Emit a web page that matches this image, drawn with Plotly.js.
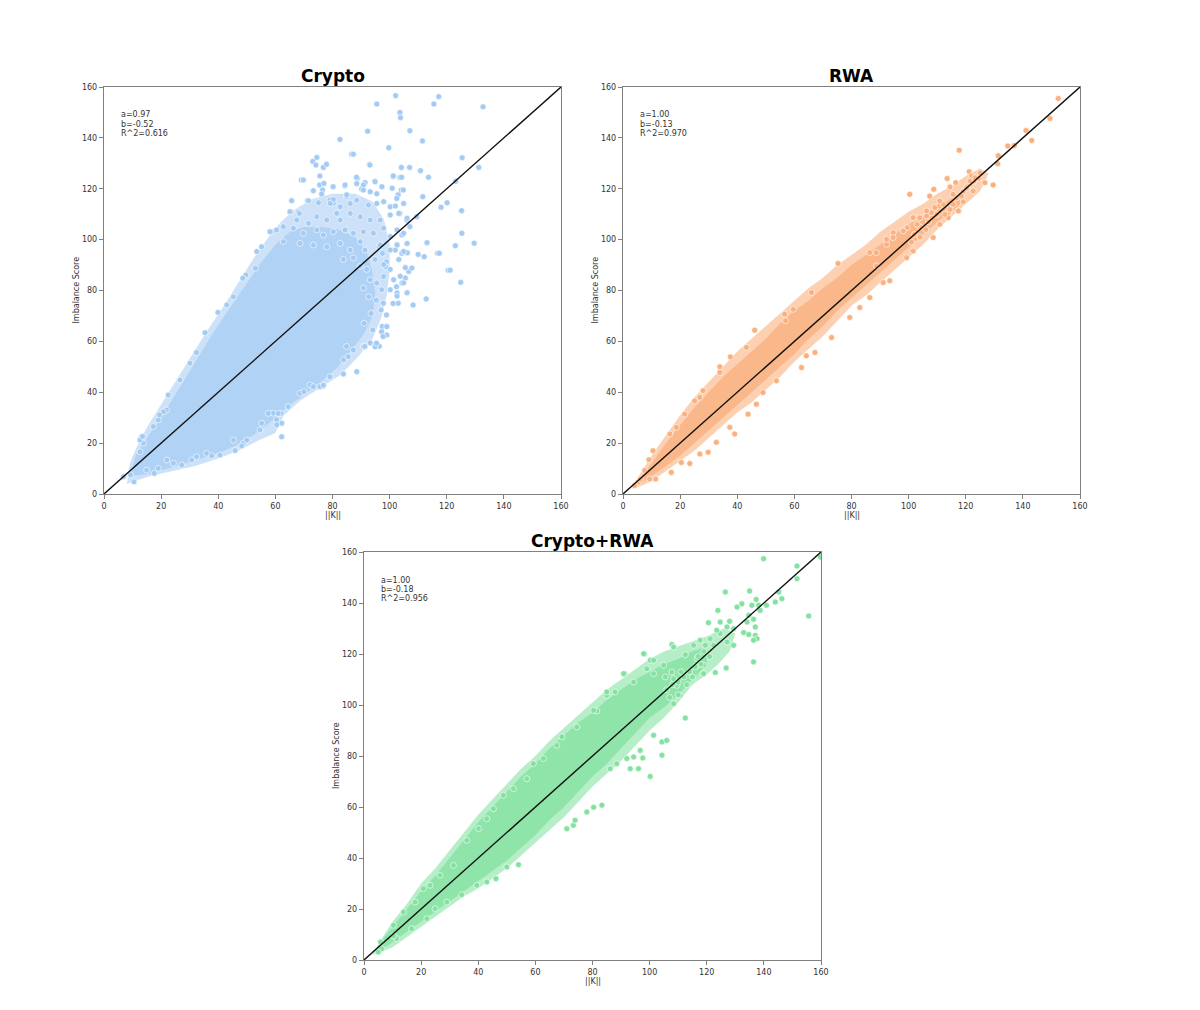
<!DOCTYPE html>
<html>
<head>
<meta charset="utf-8">
<script src="https://cdn.plot.ly/plotly-3.0.1.min.js"></script>
<style>html,body{margin:0;padding:0;background:#fff;}#chart{width:1200px;height:1010px;}</style>
</head>
<body>
<div id="chart"></div>
<script>
// ---------------- DATA ----------------
const panelTitles = ['Crypto', 'RWA', 'Crypto+RWA'];
const axisRange = [0, 160];
const tickValues = [0, 20, 40, 60, 80, 100, 120, 140, 160];
const xAxisLabel = '||K||';
const yAxisLabel = 'Imbalance Score';

const cryptoStats = ['a=0.97', 'b=-0.52', 'R^2=0.616'];
const rwaStats = ['a=1.00', 'b=-0.13', 'R^2=0.970'];
const combinedStats = ['a=1.00', 'b=-0.18', 'R^2=0.956'];

// outline of the fully covered (dense) part of each cloud, [||K||, score]
const cryptoCore = [[9,7],[11,15],[15,22],[20,30],[26,41],[32,52],[38,63],[44,73],[50,83],[55,91],[60,98],[65,103],[70,105],[76,105],[82,104],[88,101],[92,95],[94,87],[95,79],[94,70],[91,63],[87,57],[82,50],[76,44],[70,39],[64,34],[58,28],[52,23],[46,19],[40,16],[34,14],[28,12],[22,10],[16,8]];
const rwaCore = [[5,5],[10,12],[15,20],[20,27],[25,34],[30,40],[35,46],[40,51],[45,56],[50,61],[55,67],[60,72],[65,76],[70,81],[75,85],[80,90],[85,94],[90,98],[95,102],[100,106],[105,109],[110,113],[115,116],[118,118],[118,114],[115,111],[110,107],[105,102],[100,97],[95,92],[90,87],[85,82],[80,77],[75,72],[70,66],[65,61],[60,55],[55,50],[50,45],[45,40],[40,35],[35,30],[30,25],[25,20],[20,15],[15,11],[10,7],[5,3]];
const combinedCore = [[5,6],[10,13],[15,20],[20,27],[25,33],[30,40],[35,47],[40,54],[45,60],[50,66],[55,72],[60,77],[65,83],[70,88],[75,93],[80,97],[85,102],[90,106],[95,110],[100,113],[105,116],[110,118],[115,121],[120,123],[120,116],[115,110],[110,104],[105,99],[100,95],[95,89],[90,83],[85,77],[80,72],[75,66],[70,60],[65,55],[60,49],[55,44],[50,39],[45,35],[40,31],[35,27],[30,23],[25,19],[20,15],[15,11],[10,7],[5,3]];

// outline of the partly covered (medium density) zone around it
const cryptoHalo = [[8,4],[9,12],[12,20],[16,28],[21,37],[26,46],[31,55],[36,64],[42,74],[47,83],[52,92],[57,100],[62,107],[67,112],[73,116],[80,118],[88,118],[94,115],[98,108],[100,98],[100,88],[99,78],[97,69],[94,61],[89,54],[83,47],[76,42],[69,37],[63,31],[60,24],[54,21],[47,17],[40,14],[32,11],[24,9],[16,7]];
const rwaHalo = [[3,2],[6,8],[10,15],[15,23],[20,31],[25,38],[30,44],[35,50],[40,56],[45,61],[50,66],[55,71],[60,76],[65,81],[70,85],[75,90],[80,94],[85,98],[90,103],[95,107],[100,111],[105,114],[110,118],[115,121],[120,125],[125,128],[128,126],[125,119],[120,114],[115,109],[110,104],[105,98],[100,93],[95,88],[90,83],[85,78],[80,74],[75,68],[70,62],[65,57],[60,52],[55,46],[50,41],[45,36],[40,32],[35,27],[30,22],[25,17],[20,13],[15,9],[10,5],[6,3]];
const combinedHalo = [[3,2],[6,8],[10,15],[15,22],[20,30],[25,36],[30,43],[35,50],[40,57],[45,63],[50,69],[55,75],[60,80],[65,86],[70,91],[75,96],[80,101],[85,106],[90,110],[95,114],[100,118],[105,121],[110,123],[115,125],[120,127],[126,130],[130,128],[128,121],[124,116],[120,112],[115,108],[110,101],[105,95],[100,90],[95,84],[90,78],[85,73],[80,68],[75,62],[70,56],[65,51],[60,46],[55,41],[50,36],[45,32],[40,28],[35,25],[30,21],[25,17],[20,13],[15,9],[10,5],[6,3]];

// individual points around / outside the dense part
const cryptoPoints = [
[102.1,156.6],[117.2,156.2],[115.5,153.3],[132.7,152.2],[95.5,153.3],[103.6,150],[103.8,147.9],[107.1,142.8],[92.3,142.6],[111.5,138.8],
[82.6,139.4],[99.7,136.1],[125.4,132.2],[131.2,128.4],[86.7,133.6],[87.3,133.6],[74.5,132.3],[73.1,130.7],[74.2,129.3],[76.8,128.4],
[77.9,129.6],[93,129.6],[104.1,128.4],[107,128.4],[110.8,127.1],[101.2,125.1],[113.6,124.5],[103.6,124.4],[69.1,123.4],[88.7,124],
[94.8,122.9],[97.3,120.8],[91.4,122.4],[90.2,119.9],[84.3,121.1],[80.2,120.8],[75.5,121.5],[76.5,119.5],[100.9,120.2],[104.1,119.5],
[123.1,122.9],[125.2,111.4],[120.1,114.5],[118,112.7],[111.6,116.9],[109.5,109],[103.6,110.3],[106,107.7],[107.1,105.1],[125.3,102.5],
[123,97.6],[129.6,98.6],[113.1,98.8],[116.8,94.6],[117.4,94.6],[110,94.2],[112.1,93.3],[120.5,88],[124.9,83.2],[112.8,76.7],
[108.2,74.3],[102.6,79],[104.3,82.9],[105.5,84.9],[106.7,87.5],[107.8,88.8],[103.7,85.6],[104.3,94.6],[106.2,94.8],[102,95.9],
[102.6,98.1],[104.3,101.8],[98.9,91.3],[98.6,89.3],[97.5,94.6],[96.3,97.2],[92.7,77.5],[95.3,76.2],[97,72.3],[93.5,71],
[94.1,64.5],[97.4,65.8],[91.1,67.1],[93.2,59.4],[96.4,58.1],[99,62.5],[91.1,58.1],[103,75],[97.8,75],[121.2,88],
[99,65.8],[97.2,63.8],[94.9,57.9],[90.8,57.9],[88.5,48.1],[83.8,47.2],[79.1,46.1],[76.6,42.4],[87.3,56.6],[85.5,54],
[83.8,52.7],[68.6,39.6],[70,40.2],[72.1,42.9],[62,31.7],[62.2,27.8],[62.2,22.5],[69.8,123.4],[65.7,115.3],[71.2,115.3],
[65.5,110.9],[68,110.9],[58.7,103.1],[53.5,95.3],[55.2,97.2],[53,88.7],[49.7,86.1],[48.6,84.8],[45.3,77.5],[43,74.3],
[39.9,71.4],[35.4,63.4],[32.4,55.6],[30.1,51.4],[26.6,44.8],[22.5,38.9],[21.9,33],[19,29.1],[17.3,26.5],[13.2,22.6],
[13.8,20],[48.8,20],[50,21.2],[59.3,31.8],[60.4,29.2],[75.6,42.2],[84.9,58],[91.3,58],[95.4,59.3],[97.7,61.9],
[98.9,70.4],[101.2,74.9],[102.4,81.5],[93.1,129.3],[101.2,124.7],[88.5,122],[90.8,119.5],[93.2,118.8],[80.3,114.3],[84.9,116.9],
[79.1,115.6],[10.5,4.8],[6.8,6.8],[9.3,7.5],[12.6,21.2],[13.5,22.6],[12.6,16.6],[20.8,32.3],[19.4,31.1],[24.3,12.1],
[27.2,11.4],[22,13.4],[19,10.1],[17.6,8.1],[14.9,9.4],[30.7,13.4],[32.4,14.7],[35.9,16],[37.7,15],[40.6,15.3],
[45.9,17.1],[48.2,18.9],[45.3,21.2],[54.6,25.2],[55.2,27.8],[57.5,31.7],[61,31.7],[60.5,27.2],[64.5,34.3],[76.8,42.8],
[73.3,42.2],[75.6,125],[77,122.1],[73.3,119.2],[76.2,117.9],[84.4,121.5],[85,117.6],[88.4,124.5],[90.8,121.5],[94.9,122.8],
[95.5,118],[101.3,125],[104.2,124.5],[103,117.6],[102.5,116.2],[104.8,119.5],[71.6,115.3],[75.1,114.5],[80.3,115.8],[79.2,114.2],
[82.7,112.9],[86.2,114.2],[88.5,115.5],[92.6,113.6],[95.5,114.2],[97.9,114.9],[100.2,112.9],[102,113.2],[104.9,114.2],[65.1,111],
[68.4,110.3],[67.5,107.7],[71.6,106.4],[74.5,109],[78,107.7],[81.5,110.3],[82.7,107.7],[86.2,110.3],[89.7,109],[93.2,107.7],
[96.7,107.7],[100.2,109.7],[103.2,110.3],[106.1,108.4],[58.1,103.1],[60.4,103.8],[62.8,105.1],[66.3,104.5],[69.8,102.5],[74.5,103.8],
[76.8,101.8],[80.3,103.1],[84.4,103.8],[87.3,102.5],[90.8,103.1],[94.3,102.5],[97.9,104.5],[100.2,101.2],[102.6,103.8],[104.9,102.5],
[62.8,99.2],[68.6,98.5],[73.3,97.9],[78,97.2],[82.7,98.5],[86.2,95.9],[89.7,99.2],[91.4,95.9],[96.7,97.9],[100.2,95.9],
[102.6,97.9],[104.9,95.3],[106.1,98.5],[83.8,92.2],[87.3,92.8],[89.7,89.6],[92,88.3],[94.9,92.2],[97.9,90.2],[100.2,88.3],
[103.2,92.2],[105.5,89],[101.4,84.2],[97.9,85.5],[95.5,82.9],[93.2,84.2],[90.8,81],[97.2,80.3],[100.2,80.3],[104.9,83],
[106.1,79.1],[102.6,77.8]
];

const rwaPoints = [
[152.4,155.5],[149.5,147.6],[141.1,142.9],[143.1,139],[134.7,136.8],[137,137],[117.7,135.1],[131.4,133],[131.2,129.8],[129.6,121.5],
[126.7,122.4],[125,126.3],[121.2,126.7],[122,125],[122.9,123],[124.4,124.1],[113.5,124],[116.5,122.4],[114.5,120.7],[119.1,118.8],
[120.6,121.1],[119.1,114.9],[117.6,111.3],[108.8,119.8],[107.4,117.1],[110.7,113.2],[113.9,110.6],[112.1,113.9],[100.4,117.8],[101.6,108.6],
[103.9,108.6],[106.3,109.3],[109.8,109.9],[108,110.6],[99.5,104.7],[98.1,103.4],[94.6,102.7],[92.3,98.2],[88.7,94.9],[86.4,94.9],
[88.7,89.7],[92.3,100.1],[94.6,100.8],[75.3,90.6],[66,79.2],[59.6,72.6],[56.6,70.7],[56.9,68.1],[46.1,64.4],[43.2,57.6],
[37.6,53.9],[33.9,50],[33.9,47.8],[28,40.6],[26.9,38],[25.1,36.6],[21.6,31.4],[18.7,26.2],[16.4,23.6],[10.5,17],
[9.1,13.5],[7.6,9.2],[5.3,4.6],[6.1,5.9],[4.1,3.3],[9.3,5.9],[11.4,5.9],[16.9,8.5],[20.4,12.4],[23.4,12],
[26.9,15.7],[29.8,16.4],[32.7,20.3],[39.1,23.6],[37.4,26.2],[43.8,31.4],[46.7,35.3],[49,39.9],[53.7,44.5],[62.5,49.7],
[64.2,54.3],[67.2,55.6],[73,61.5],[79.4,69.4],[82.9,73.3],[86.4,77.2],[91.1,83.1],[93.4,83.8],[99.3,92.9],[101.6,95.5],
[108.6,100.8],[110.9,106],[113.9,108.6],[117.4,111.3],[122.6,119.1],[112.7,109.9],[114.5,111.9],[115.6,113.9],[116.8,116.5],[118.5,117.1],
[120.3,120.4],[121.5,123],[123.2,124.3],[115.6,117.8],[110.9,115.2],[109.2,112.6],[106.3,111.3],[102,102],[104,105],[106,104],
[107,107],[104,101],[101,99],[103,106]
];

const combinedPoints = [
[139.9,157.4],[159.8,158],[151.6,154.5],[151.6,149.5],[155.7,134.9],[145.2,144.3],[144,140.4],[146.3,141.7],[135,144.7],[137.3,141.4],
[138.2,139.1],[140.9,139.1],[135.8,139.1],[138.7,137.1],[126.5,144.3],[130.6,138.4],[132.3,139.7],[123.9,137.1],[120.6,132.3],[124.7,132.5],
[128,132.8],[127.1,130.6],[129.4,129.9],[134.7,135.2],[134.1,132.5],[136.4,133.6],[137,130.6],[132.9,128.4],[134.7,127.6],[137,127.3],
[137.6,126],[136.4,125.4],[136.4,116.9],[126.8,114.5],[123,112.7],[118.9,112.3],[118.9,115.6],[116.3,115.3],[116.6,118.2],[129.4,123.4],
[127.1,124.7],[124.7,128],[123.5,129.3],[121.2,126],[112.5,119.7],[115.4,123.4],[117.7,125.4],[119.5,123.4],[122.4,123.4],[107.8,123.7],
[108.4,122.7],[98.2,120],[100.2,117.5],[101.4,117.5],[99,114.2],[101.4,112.3],[104.9,115.6],[107.8,112.9],[105.5,111],[108.4,110.3],
[109.5,107.7],[110.7,103.8],[108.4,100.5],[112.5,94.9],[91.2,112.3],[94.4,109],[87.9,105.1],[85,103.8],[81.5,97.6],[104.3,85.5],
[106,86.1],[104.3,80.3],[97.6,79.2],[100.2,72],[101.4,88.1],[96.7,82.2],[94.4,79.6],[92,79],[88.5,77],[96.1,75],
[93.2,75],[86.2,75],[80.4,59.9],[83.3,60.7],[73.3,52.8],[71,51.5],[73.9,54.8],[78,58],[54.1,37.4],[50,36.5],
[46.2,31.9],[43,30.6],[39.5,29.3],[34.2,25.6],[29,22.7],[24.9,20.1],[22,16.2],[16.7,12.3],[11.4,8.4],[10.3,9.4],
[6.2,4.4],[5,3.1],[5.8,7.1],[10.3,13.6],[13.8,18.8],[17.9,22.7],[20.8,28],[23.1,29.3],[26.6,33.2],[31.3,37.1],
[36,46.9],[40.1,51.5],[43,55.4],[45.3,59.3],[48.8,64.6],[52.3,67.2],[57,71.1],[59.3,77],[62.8,79],[67.5,84.2],
[69.3,87.5],[74.5,91.4],[80.4,97.9],[85,105.1],[90.9,112.3],[97.9,120.1],[106,106],[108,108],[110,109],[112,111],
[114,113],[116,115],[118,116],[110,104],[107,103],[113,108],[115,111],[117,119],[119,121],[121,119],
[111,113]
];

// ---------------- STYLE / LAYOUT ----------------
const W = 1200, H = 1010;
const px = v => v / W;
const py = v => 1 - v / H;
const FONT = 'DejaVu Sans, Liberation Sans, Arial, sans-serif';

const panels = [
  {title: panelTitles[0], core: cryptoCore, halo: cryptoHalo, pts: cryptoPoints, stats: cryptoStats,
   color: '#a4cbf3', fill: '#b0d2f5', haloFill: 'rgba(164,203,243,0.55)', box: [104, 561, 87, 494], ax: ''},
  {title: panelTitles[1], core: rwaCore, halo: rwaHalo, pts: rwaPoints, stats: rwaStats,
   color: '#fbb07f', fill: '#f9b78a', haloFill: 'rgba(251,176,127,0.6)', box: [623, 1080, 87, 494], ax: '2'},
  {title: panelTitles[2], core: combinedCore, halo: combinedHalo, pts: combinedPoints, stats: combinedStats,
   color: '#84e2a1', fill: '#8fe4a9', haloFill: 'rgba(132,226,161,0.6)', box: [364, 821, 552, 960], ax: '3'}
];

const traces = [];
const annotations = [];
const layout = {
  width: W, height: H, autosize: false,
  margin: {l: 0, r: 0, t: 0, b: 0},
  paper_bgcolor: '#ffffff', plot_bgcolor: '#ffffff',
  showlegend: false,
  font: {family: FONT, size: 8, color: '#333333'}
};

panels.forEach(p => {
  const xa = 'x' + p.ax, ya = 'y' + p.ax;
  const [x0, x1, y0, y1] = p.box;
  const axCommon = {
    range: axisRange, autorange: false, tickmode: 'array', tickvals: tickValues,
    ticktext: tickValues.map(String),
    showgrid: false, zeroline: false, showline: true, mirror: true,
    linecolor: '#808080', linewidth: 1.2,
    ticks: 'outside', ticklen: 4, tickwidth: 1, tickcolor: '#808080',
    tickfont: {family: FONT, size: 8, color: '#333333'}, fixedrange: true
  };
  layout['xaxis' + p.ax] = Object.assign({}, axCommon, {
    domain: [px(x0), px(x1)], anchor: ya
  });
  layout['yaxis' + p.ax] = Object.assign({}, axCommon, {
    domain: [py(y1), py(y0)], anchor: xa
  });

  traces.push({
    type: 'scatter', mode: 'lines', xaxis: xa, yaxis: ya,
    x: p.halo.map(d => d[0]), y: p.halo.map(d => d[1]),
    fill: 'toself', fillcolor: p.haloFill,
    line: {width: 0, color: 'rgba(0,0,0,0)'}, hoverinfo: 'skip'
  });
  traces.push({
    type: 'scatter', mode: 'lines', xaxis: xa, yaxis: ya,
    x: p.core.map(d => d[0]), y: p.core.map(d => d[1]),
    fill: 'toself', fillcolor: p.fill,
    line: {width: 0, color: 'rgba(0,0,0,0)'}, hoverinfo: 'skip'
  });
  traces.push({
    type: 'scatter', mode: 'markers', xaxis: xa, yaxis: ya,
    x: p.pts.map(d => d[0]), y: p.pts.map(d => d[1]),
    marker: {size: 6, color: p.color, line: {color: '#ffffff', width: 0.6}},
    hoverinfo: 'x+y'
  });
  traces.push({
    type: 'scatter', mode: 'lines', xaxis: xa, yaxis: ya,
    x: axisRange, y: axisRange,
    line: {color: '#111111', width: 1.4}, hoverinfo: 'skip'
  });

  const cx = (x0 + x1) / 2, cy = (y0 + y1) / 2;
  annotations.push({
    xref: 'paper', yref: 'paper', x: px(cx), y: py(y0 - 11),
    xanchor: 'center', yanchor: 'middle', showarrow: false,
    text: '<b>' + p.title + '</b>',
    font: {family: FONT, size: 17, color: '#000000'}
  });
  annotations.push({
    xref: 'paper', yref: 'paper', x: px(cx), y: py(y1 + 21),
    xanchor: 'center', yanchor: 'middle', showarrow: false,
    text: xAxisLabel, font: {family: FONT, size: 8, color: '#333333'}
  });
  annotations.push({
    xref: 'paper', yref: 'paper', x: px(x0 - 28), y: py(cy),
    xanchor: 'center', yanchor: 'middle', showarrow: false, textangle: -90,
    text: yAxisLabel, font: {family: FONT, size: 8, color: '#333333'}
  });
  p.stats.forEach((s, i) => {
    annotations.push({
      xref: 'paper', yref: 'paper', x: px(x0 + 15), y: py(y0 + 28 + i * 9.2),
      xanchor: 'left', yanchor: 'middle', showarrow: false,
      text: s, font: {family: FONT, size: 8, color: '#333333'}
    });
  });
});

layout.annotations = annotations;
Plotly.newPlot('chart', traces, layout, {staticPlot: true, displayModeBar: false});
</script>
</body>
</html>
